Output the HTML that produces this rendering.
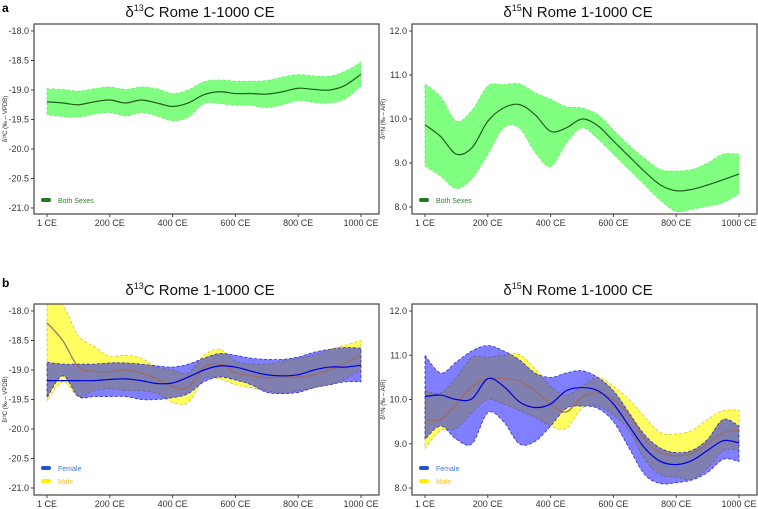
<!DOCTYPE html>
<html><head><meta charset="utf-8"><style>
body{margin:0;background:#fff;}
svg{display:block;font-family:"Liberation Sans",sans-serif;}
</style></head><body>
<svg id="fig" width="758" height="509" viewBox="0 0 758 509">
<text x="2" y="12" font-size="12" font-weight="bold">a</text>
<text x="2" y="287" font-size="12" font-weight="bold">b</text>
</svg>
<script>
const years=[0,50,100,150,200,250,300,350,400,450,500,550,600,650,700,750,800,850,900,950,1000];
const xTickYears=[0,200,400,600,800,1000];
const xTickLabels=["1 CE","200 CE","400 CE","600 CE","800 CE","1000 CE"];
const cTicks=[-18.0,-18.5,-19.0,-19.5,-20.0,-20.5,-21.0];
const nTicks=[12.0,11.0,10.0,9.0,8.0];
// Panel a, carbon
const cBothMean=[-19.2,-19.22,-19.25,-19.2,-19.17,-19.22,-19.17,-19.22,-19.28,-19.22,-19.08,-19.03,-19.06,-19.06,-19.07,-19.03,-18.97,-18.99,-19.0,-18.92,-18.73];
const cBothHi=[-18.98,-18.99,-19.02,-18.98,-18.95,-18.99,-18.95,-18.98,-19.06,-19.0,-18.86,-18.83,-18.85,-18.85,-18.84,-18.78,-18.74,-18.76,-18.77,-18.68,-18.53];
const cBothLo=[-19.42,-19.45,-19.46,-19.41,-19.38,-19.44,-19.38,-19.44,-19.52,-19.46,-19.23,-19.23,-19.26,-19.26,-19.3,-19.25,-19.18,-19.21,-19.22,-19.15,-18.93];
// Panel a, nitrogen
const nBothMean=[9.87,9.6,9.2,9.35,9.95,10.25,10.33,10.1,9.72,9.8,10.0,9.85,9.5,9.15,8.8,8.5,8.37,8.4,8.5,8.62,8.75];
const nBothHi=[10.8,10.5,9.95,10.2,10.75,10.78,10.8,10.6,10.45,10.28,10.25,10.1,9.75,9.4,9.1,8.85,8.82,8.85,9.0,9.2,9.2];
const nBothLo=[8.93,8.7,8.42,8.65,9.2,9.8,9.8,9.25,8.92,9.45,9.8,9.55,9.2,8.85,8.5,8.15,7.9,7.95,8.02,8.1,8.3];
// Panel b, carbon
const cFemMean=[-19.18,-19.18,-19.18,-19.18,-19.16,-19.15,-19.18,-19.23,-19.22,-19.12,-19.0,-18.93,-18.95,-19.02,-19.08,-19.1,-19.08,-19.0,-18.95,-18.95,-18.92];
const cFemHi=[-18.87,-18.9,-18.9,-18.9,-18.88,-18.88,-18.9,-18.93,-18.95,-18.9,-18.8,-18.72,-18.75,-18.8,-18.82,-18.82,-18.78,-18.7,-18.65,-18.62,-18.63];
const cFemLo=[-19.47,-19.1,-19.45,-19.45,-19.45,-19.45,-19.5,-19.5,-19.47,-19.4,-19.2,-19.12,-19.17,-19.25,-19.38,-19.4,-19.38,-19.3,-19.25,-19.2,-19.2];
const cMaleMean=[-18.2,-18.5,-18.95,-19.02,-19.03,-19.0,-19.05,-19.15,-19.28,-19.3,-18.95,-18.9,-19.05,-19.1,-19.13,-19.12,-19.12,-19.08,-19.0,-18.88,-18.75];
const cMaleHi=[-17.8,-17.9,-18.42,-18.6,-18.77,-18.75,-18.8,-18.95,-19.0,-19.05,-18.75,-18.65,-18.85,-18.9,-18.9,-18.85,-18.8,-18.75,-18.65,-18.58,-18.5];
const cMaleLo=[-19.52,-19.2,-19.45,-19.35,-19.32,-19.35,-19.35,-19.4,-19.55,-19.55,-19.15,-19.15,-19.25,-19.3,-19.35,-19.4,-19.35,-19.3,-19.25,-19.15,-19.0];
// Panel b, nitrogen
const nFemMean=[10.07,10.1,10.0,10.02,10.47,10.3,9.95,9.82,9.9,10.2,10.27,10.2,9.9,9.4,8.9,8.6,8.53,8.62,8.85,9.07,9.02];
const nFemHi=[11.0,10.6,10.85,11.1,11.22,11.1,10.9,10.6,10.5,10.6,10.65,10.5,10.2,9.7,9.2,8.9,8.8,8.85,9.1,9.55,9.4];
const nFemLo=[9.1,9.4,9.1,9.0,9.7,9.5,9.0,9.05,9.4,9.8,9.85,9.8,9.5,8.9,8.3,8.1,8.12,8.18,8.35,8.65,8.6];
const nMaleMean=[9.55,9.55,9.9,10.3,10.47,10.47,10.42,10.2,9.9,9.72,10.05,10.15,10.0,9.65,9.1,8.8,8.73,8.78,9.0,9.25,9.3];
const nMaleHi=[10.2,10.15,10.5,10.95,10.95,11.0,11.02,10.7,10.3,10.1,10.3,10.5,10.3,10.0,9.6,9.25,9.22,9.3,9.55,9.75,9.75];
const nMaleLo=[8.9,9.3,9.35,9.7,10.0,9.9,9.75,9.6,9.4,9.35,9.8,9.85,9.65,9.3,8.65,8.3,8.25,8.2,8.45,8.85,8.85];

const NS='http://www.w3.org/2000/svg';
const svg=document.getElementById('fig');
function mk(tag,attrs,parent){const e=document.createElementNS(NS,tag);for(const k in attrs)e.setAttribute(k,attrs[k]);(parent||svg).appendChild(e);return e;}
function smooth(pts){let d='M'+pts[0][0]+','+pts[0][1];for(let i=0;i<pts.length-1;i++){const p0=pts[Math.max(0,i-1)],p1=pts[i],p2=pts[i+1],p3=pts[Math.min(pts.length-1,i+2)];const c1=[p1[0]+(p2[0]-p0[0])/6,p1[1]+(p2[1]-p0[1])/6],c2=[p2[0]-(p3[0]-p1[0])/6,p2[1]-(p3[1]-p1[1])/6];d+=' C'+c1[0]+','+c1[1]+' '+c2[0]+','+c2[1]+' '+p2[0]+','+p2[1];}return d;}
let clipN=0;
function panel(o){
  const g=mk('g',{});
  
  
  const x0=o.bx+13,x1=o.bx+327;
  const sx=v=>x0+(v-0)/1000*(x1-x0);
  const sy=v=>o.yTop+(o.vTop-v)/(o.vTop-o.vBot)*(o.yBot-o.yTop);
  const t=mk('text',{x:o.bx+166,y:o.titleY,'font-size':'15','text-anchor':'middle',fill:'#111'},g);
  
  t.innerHTML=o.title;
  const cid='clip'+(clipN++);
  const cp=mk('clipPath',{id:cid},g);mk('rect',{x:o.bx,y:o.boxTop,width:345,height:o.boxBot-o.boxTop},cp);
  const plot=mk('g',{'clip-path':'url(#'+cid+')'},g);
  o.series.forEach(s=>{
    const hi=years.map((y,i)=>[sx(y),sy(s.hi[i])]);
    const lo=years.map((y,i)=>[sx(y),sy(s.lo[i])]).reverse();
    const d=smooth(hi)+' L'+lo[0][0]+','+lo[0][1]+' '+smooth(lo).slice(1)+' Z';
    const b=mk('path',{d:d,fill:s.fill,'fill-opacity':s.op,stroke:s.edge,'stroke-width':'0.8','stroke-dasharray':'3,2'},plot);
    
  });
  o.series.forEach(s=>{
    const l=mk('path',{d:smooth(years.map((y,i)=>[sx(y),sy(s.mean[i])])),fill:'none',stroke:s.line,'stroke-width':'1.2'},plot);
    
  });
  const box=mk('rect',{x:o.bx,y:o.boxTop,width:345,height:o.boxBot-o.boxTop,fill:'none',stroke:'#444','stroke-width':'1.2'},g);
  
  o.yTicks.forEach(v=>{
    mk('line',{x1:o.bx-3,x2:o.bx,y1:sy(v),y2:sy(v),stroke:'#444'},g);
    const tl=mk('text',{x:o.bx-5,y:sy(v)+3,'font-size':'9','text-anchor':'end',fill:'#333'},g);
    
    tl.textContent=v.toFixed(1);
  });
  xTickYears.forEach((v,i)=>{
    mk('line',{x1:sx(v),x2:sx(v),y1:o.boxBot,y2:o.boxBot+3,stroke:'#444'},g);
    const tl=mk('text',{x:sx(v),y:o.boxBot+12,'font-size':'9','text-anchor':'middle',fill:'#333'},g);
    
    tl.textContent=xTickLabels[i];
  });
  const cy=(o.boxTop+o.boxBot)/2;
  const at=mk('text',{x:o.bx-27,y:cy,'font-size':'6','text-anchor':'middle',fill:'#222',transform:'rotate(-90 '+(o.bx-27)+' '+cy+')'},g);
  
  at.innerHTML=o.ytitle;
  o.legend.forEach((L,i)=>{
    const ly=o.legY+i*13;
    const r=mk('rect',{x:o.bx+7,y:ly-2,width:10,height:4,rx:2,fill:L.c},g);
    
    const lt=mk('text',{x:o.bx+24,y:ly+3,'font-size':'7',fill:L.tc},g);
    
    lt.textContent=L.t;
  });
}
const green={key:'both-sexes',fill:'#80ff80',op:1,edge:'#66ee66',line:'#1f5e1f'};
const male={fill:'#ffff44',op:0.85,edge:'#e0c020',line:'#a06a60'};
const fem={fill:'#0000ff',op:0.5,edge:'#3030c0',line:'#0000dd'};
const cTitle='δ<tspan font-size="9" dy="-6">13</tspan><tspan dy="6">C Rome 1-1000 CE</tspan>';
const nTitle='δ<tspan font-size="9" dy="-6">15</tspan><tspan dy="6">N Rome 1-1000 CE</tspan>';
const cY='δ¹³C (‰ – VPDB)', nY='δ¹⁵N (‰ – AIR)';
const legBoth=[{k:'both',t:'Both Sexes',c:'#1f7a1f',tc:'#2a8a2a'}];
const legSex=[{k:'female',t:'Female',c:'#2255cc',tc:'#3a7ad8'},{k:'male',t:'Male',c:'#ffee00',tc:'#f0c020'}];
panel({name:'panel-a-carbon',bx:34,titleY:17,title:cTitle,boxTop:24,boxBot:214,yTop:31,yBot:208,vTop:-18,vBot:-21,yTicks:cTicks,ytitle:cY,legY:200,legend:legBoth,
 series:[Object.assign({},green,{mean:cBothMean,hi:cBothHi,lo:cBothLo})]});
panel({name:'panel-a-nitrogen',bx:412,titleY:17,title:nTitle,boxTop:24,boxBot:214,yTop:31,yBot:207,vTop:12,vBot:8,yTicks:nTicks,ytitle:nY,legY:200,legend:legBoth,
 series:[Object.assign({},green,{mean:nBothMean,hi:nBothHi,lo:nBothLo})]});
panel({name:'panel-b-carbon',bx:34,titleY:295,title:cTitle,boxTop:304,boxBot:495,yTop:311,yBot:488,vTop:-18,vBot:-21,yTicks:cTicks,ytitle:cY,legY:468,legend:legSex,
 series:[Object.assign({key:'male'},male,{mean:cMaleMean,hi:cMaleHi,lo:cMaleLo}),Object.assign({key:'female'},fem,{mean:cFemMean,hi:cFemHi,lo:cFemLo})]});
panel({name:'panel-b-nitrogen',bx:412,titleY:295,title:nTitle,boxTop:304,boxBot:495,yTop:311,yBot:488,vTop:12,vBot:8,yTicks:nTicks,ytitle:nY,legY:468,legend:legSex,
 series:[Object.assign({key:'male'},male,{mean:nMaleMean,hi:nMaleHi,lo:nMaleLo}),Object.assign({key:'female'},fem,{mean:nFemMean,hi:nFemHi,lo:nFemLo})]});
</script>
</body></html>
